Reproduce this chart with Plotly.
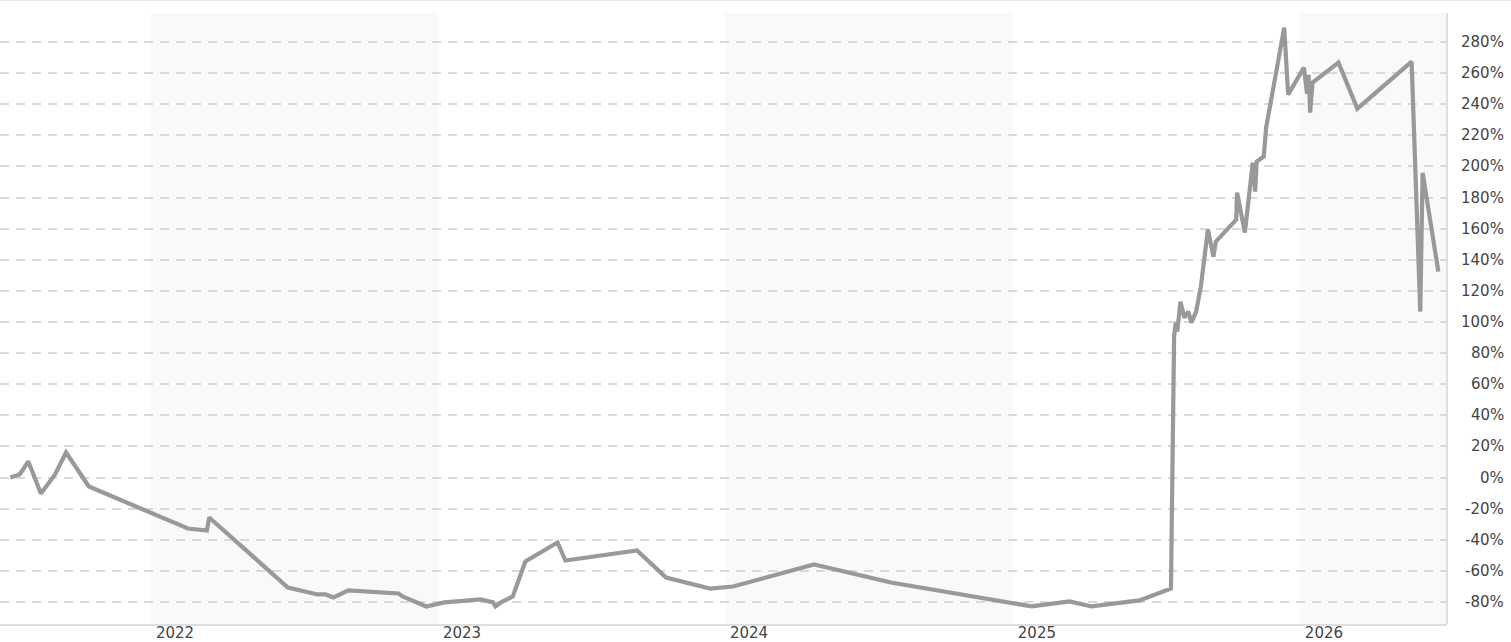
import plotly.graph_objects as go

# percent change series
dates = [
    "2021-07-06", "2021-07-18", "2021-07-29", "2021-08-14", "2021-09-01", "2021-09-15", "2021-10-14",
    "2022-02-17", "2022-03-13", "2022-03-16", "2022-06-24", "2022-08-01", "2022-08-11", "2022-08-21",
    "2022-09-09", "2022-11-12", "2022-11-17", "2022-12-17",
    "2023-01-09", "2023-02-24", "2023-03-12", "2023-03-15", "2023-03-22", "2023-04-06", "2023-04-22",
    "2023-06-02", "2023-06-12", "2023-09-11", "2023-10-18", "2023-12-13",
    "2024-01-11", "2024-04-23", "2024-07-30",
    "2025-01-25", "2025-03-14", "2025-04-11", "2025-06-11", "2025-07-21", "2025-07-25", "2025-07-27",
    "2025-07-29", "2025-08-02", "2025-08-07", "2025-08-12", "2025-08-16", "2025-08-22", "2025-08-28",
    "2025-09-06", "2025-09-13", "2025-09-16", "2025-10-12", "2025-10-13", "2025-10-23", "2025-11-02",
    "2025-11-05", "2025-11-07", "2025-11-16", "2025-11-19", "2025-12-12", "2025-12-17",
    "2026-01-06", "2026-01-10", "2026-01-12", "2026-01-14", "2026-01-17", "2026-02-19", "2026-03-15",
    "2026-05-23", "2026-06-03", "2026-06-06", "2026-06-26",
]
change = [
    0.0, 2.0, 10.3, -10.3, 2.0, 16.1, -5.8,
    -32.8, -34.1, -25.7, -70.7, -75.2, -75.2, -77.1,
    -72.6, -74.6, -76.5, -82.9,
    -80.3, -78.4, -80.3, -82.9, -80.3, -76.5, -54.0,
    -41.8, -53.4, -46.9, -64.3, -71.4,
    -70.1, -55.9, -67.5,
    -82.9, -79.7, -82.9, -79.0, -71.4, 90.6, 99.6,
    93.8, 113.0, 102.8, 106.7, 99.6, 106.7, 122.8,
    159.4, 142.0, 151.7, 165.8, 183.2, 157.5, 202.5,
    183.8, 203.1, 206.4, 225.0, 289.3, 246.2,
    263.6, 246.8, 259.0, 234.6, 253.9, 266.8, 237.2,
    267.4, 106.7, 196.0, 132.4,
]

year_ticks = ["2022-01-01", "2023-01-01", "2024-01-01", "2025-01-01", "2026-01-01"]
year_labels = ["2022", "2023", "2024", "2025", "2026"]
shaded_years = [("2022-01-01", "2023-01-01"), ("2024-01-01", "2025-01-01"), ("2026-01-01", "2026-07-07")]

pct_ticks = [-80, -60, -40, -20, 0, 20, 40, 60, 80, 100, 120, 140, 160, 180, 200, 220, 240, 260, 280]
pct_labels = ["-80%", "-60%", "-40%", "-20%", "0%", "20%", "40%", "60%", "80%", "100%", "120%",
              "140%", "160%", "180%", "200%", "220%", "240%", "260%", "280%"]

tick_font = dict(family="DejaVu Sans", size=15, color="#444444")

fig = go.Figure()
fig.add_trace(go.Scatter(
    x=dates, y=change, mode="lines",
    line=dict(color="#999999", width=4.2),
    hoverinfo="x+y", showlegend=False,
))

for start, end in shaded_years:
    fig.add_shape(type="rect", xref="x", yref="paper", x0=start, x1=end, y0=0, y1=1,
                  fillcolor="rgba(246,246,246,0.7)", line_width=0, layer="between")

# right frame line and top border
fig.add_shape(type="line", xref="paper", yref="paper", x0=1, x1=1, y0=0, y1=1,
              line=dict(color="#d4d4d4", width=1.5))
fig.add_shape(type="line", xref="paper", yref="paper", x0=0, x1=1.045, y0=1.0205, y1=1.0205,
              line=dict(color="#e6e6e6", width=1))

# right-aligned percent labels next to the right frame
for val, lab in zip(pct_ticks, pct_labels):
    fig.add_annotation(x=1, xref="paper", y=val, yref="y", text=lab, showarrow=False,
                       xanchor="right", xshift=59, font=tick_font)

fig.update_layout(
    width=1511, height=642,
    margin=dict(l=0, r=64, t=13, b=18),
    paper_bgcolor="white", plot_bgcolor="white",
    xaxis=dict(
        range=["2021-06-23", "2026-07-07"],
        tickvals=year_ticks, ticktext=year_labels,
        ticklabelshift=24, ticklabelstandoff=-6, ticks="", showgrid=False,
        showline=True, linecolor="#dedede", linewidth=2,
        tickfont=tick_font, zeroline=False, automargin=False,
    ),
    yaxis=dict(
        range=[-94.2, 298.7],
        tickvals=pct_ticks, showticklabels=False, ticks="",
        showgrid=True, gridcolor="#d9d9d9", gridwidth=1.5, griddash="9px,7px",
        zeroline=False, showline=False, automargin=False,
    ),
)

fig.write_html("out.html", config={"displayModeBar": False},
               post_script="document.body.style.margin = '0';")
